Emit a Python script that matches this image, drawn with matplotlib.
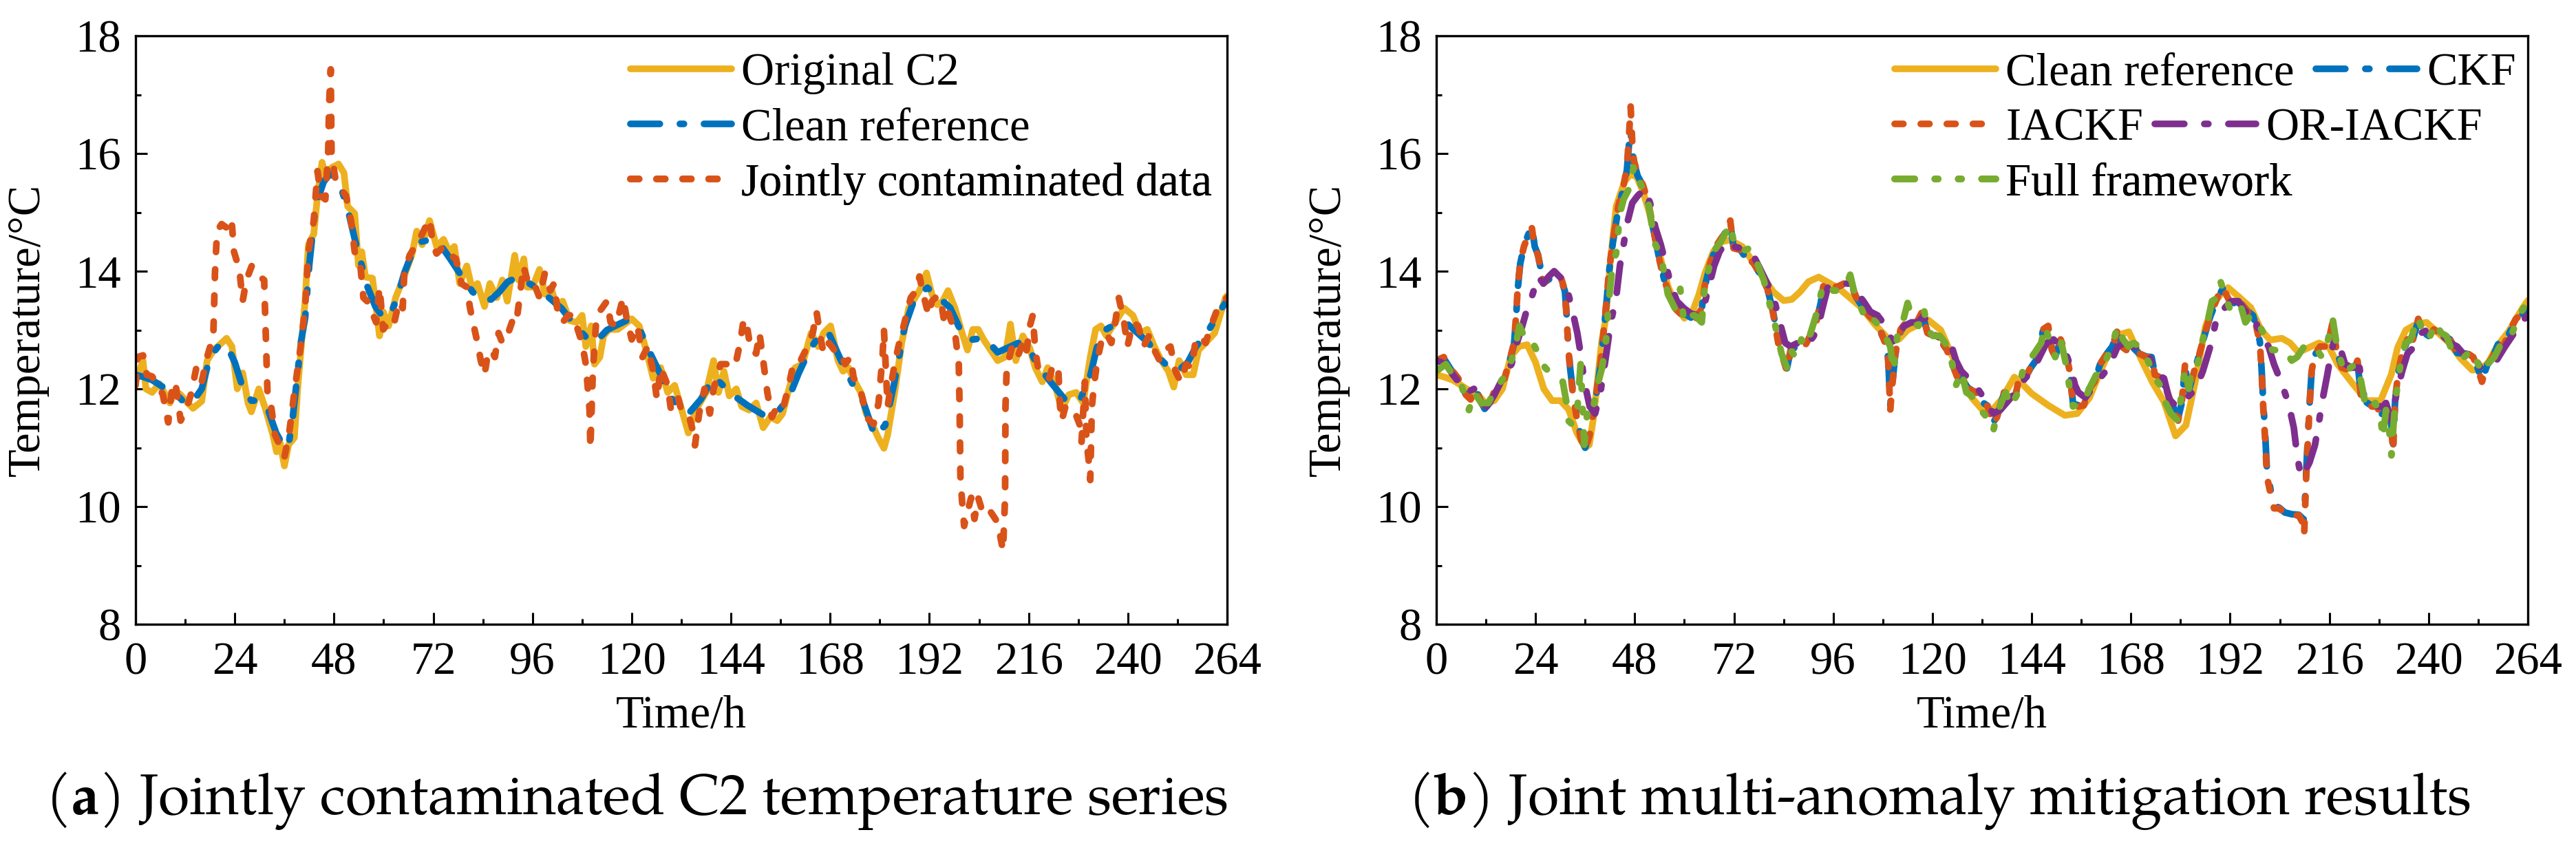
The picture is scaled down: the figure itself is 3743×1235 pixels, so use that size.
import matplotlib
matplotlib.use('Agg')
import matplotlib.pyplot as plt
from matplotlib.ticker import MultipleLocator
from matplotlib import font_manager

plt.rcParams['font.family'] = ['Liberation Serif', 'DejaVu Serif']
plt.rcParams['mathtext.fontset'] = 'custom'
_avail = {f.name for f in font_manager.fontManager.ttflist}
CAP_FONT = next((f for f in ['TeX Gyre Pagella', 'P052', 'URW Palladio L', 'Palatino Linotype',
                             'Gelasio', 'DejaVu Serif'] if f in _avail), 'DejaVu Serif')
plt.rcParams['mathtext.rm'] = CAP_FONT
plt.rcParams['mathtext.bf'] = CAP_FONT + ':bold'

# ---------------- data ----------------
x_ticks = [0, 24, 48, 72, 96, 120, 144, 168, 192, 216, 240, 264]
y_ticks = [8, 10, 12, 14, 16, 18]

clean_t = [0, 2, 4, 6, 8, 10, 12, 14, 16, 18, 20, 22, 24, 26, 28, 30, 32, 34, 36, 37, 38, 40, 41, 42,
           43.5, 45.5, 47, 48.5, 50, 51.5, 53, 54.5, 56, 58, 60, 62, 63.5, 65, 67, 69, 71, 74, 76, 79,
           81.5, 84, 86, 88, 90, 92.5, 94.5, 97.5, 100, 103, 106, 110, 112, 114, 116, 119, 122, 124.5,
           127, 129.5, 132, 134, 136.7, 139.8, 141.5, 144, 148, 152, 155, 158, 160.4, 163, 165.6, 167.5,
           170.5, 173.3, 176, 178.8, 181.3, 183.5, 186, 188, 190, 191.5, 194, 197, 199.5, 201.7, 204.5,
           206.5, 208.5, 211, 213.5, 216, 218, 221.5, 225, 228.4, 231, 232.5, 234.5, 237, 239.5, 242.5,
           245, 247.7, 250.5, 252.5, 254.5, 256.5, 259.3, 262.7, 264]
clean_v = [12.24, 12.2, 12.15, 12.06, 11.97, 11.9, 11.75, 11.8, 12.0, 12.55, 12.72, 12.75, 12.45, 12.0,
           11.8, 11.8, 11.65, 11.25, 11.0, 11.05, 11.5, 12.8, 13.2, 14.1, 15.1, 15.52, 15.65, 15.6, 15.35,
           15.0, 14.55, 14.15, 13.75, 13.4, 13.2, 13.32, 13.6, 13.97, 14.33, 14.5, 14.53, 14.42, 14.22,
           13.9, 13.65, 13.5, 13.52, 13.65, 13.82, 13.9, 13.82, 13.7, 13.55, 13.37, 13.1, 12.8, 12.85,
           13.0, 13.07, 13.17, 13.0, 12.6, 12.24, 11.85, 11.65, 11.6, 11.82, 12.2, 12.1, 11.92, 11.72,
           11.55, 11.58, 11.85, 12.27, 12.66, 12.93, 12.97, 12.5, 12.1, 11.78, 11.2, 11.38, 12.1, 13.05,
           13.45, 13.63, 13.72, 13.57, 13.38, 13.0, 12.83, 12.86, 12.78, 12.62, 12.7, 12.78, 12.7, 12.42,
           12.1, 11.8, 11.8, 12.25, 12.7, 13.0, 13.1, 13.13, 12.94, 12.78, 12.52, 12.32, 12.33, 12.45,
           12.72, 12.97, 13.37, 13.5]

orig_t = [0, 1.8, 2.5, 4, 5.7, 7.4, 8.3, 9.6, 10.9, 12.6, 13.9, 16, 17.3, 18.9, 20.8, 22, 23.3, 24.6,
          25.9, 27.2, 28, 29.8, 31.5, 33.2, 34.1, 34.9, 36, 37, 38.4, 39.2, 41, 41.8, 43.1, 44, 45.1,
          46.1, 47.4, 49.1, 50.4, 51.3, 53, 53.9, 54.7, 55.6, 57.3, 59, 59.9, 61.2, 62.9, 64.6, 66.8,
          68, 69.3, 71.1, 72.8, 74.5, 75.8, 77.1, 78.4, 80.1, 81.4, 82.7, 84.4, 85.7, 87.4, 88.7, 89.9,
          91.7, 92.6, 93.9, 94.7, 96, 97.7, 99, 100.7, 102, 103.3, 105, 106.7, 108, 108.9, 110.2, 111,
          112.3, 113.2, 114.5, 116.6, 120, 121.8, 123.5, 125.2, 127, 128.7, 130.4, 132.1, 133.7, 135.5,
          138, 139.8, 141, 142.3, 143.6, 145.3, 146.6, 148.4, 150.1, 151.8, 153.5, 155.2, 156.5, 157.8,
          159.5, 161.3, 163.4, 165.1, 166.4, 168.1, 169.9, 171.1, 172.4, 174.2, 175.4, 176.7, 178.5,
          179.7, 181, 181.9, 183.6, 185.3, 187, 189.6, 191.3, 192.6, 193.9, 195.2, 196.5, 198.2, 199.9,
          201.2, 202.5, 203.8, 205.1, 206.8, 208.5, 210.3, 211.6, 212.9, 214.6, 216.3, 217.6, 219.3,
          220.6, 222.3, 224, 225.7, 227.5, 229.2, 230.9, 232.2, 233.5, 234.8, 236.9, 239.1, 241.2, 243,
          244.7, 246.4, 248.1, 249.8, 251.1, 252.4, 254.1, 255.8, 257.1, 258.8, 261, 263.6, 264]
orig_v = [12.12, 12.48, 12.0, 11.94, 12.09, 11.88, 11.76, 11.97, 11.9, 11.76, 11.67, 11.79, 12.48, 12.66,
          12.78, 12.86, 12.72, 12.0, 12.27, 11.76, 11.61, 12.0, 11.64, 11.22, 10.93, 11.1, 10.69, 11.05,
          11.17, 12.0, 13.49, 14.45, 14.63, 15.28, 15.85, 15.58, 15.76, 15.82, 15.67, 15.1, 14.98, 14.1,
          14.33, 13.9, 13.88, 12.9, 13.31, 13.07, 13.55, 13.85, 14.27, 14.68, 14.45, 14.86, 14.42, 14.54,
          14.33, 14.42, 13.79, 14.09, 13.7, 13.79, 13.4, 13.79, 13.55, 13.85, 13.49, 14.27, 13.85, 14.21,
          13.73, 13.73, 14.03, 13.61, 13.67, 13.37, 13.49, 13.16, 13.13, 13.25, 12.72, 13.07, 12.42,
          12.54, 12.9, 13.01, 13.01, 13.19, 13.07, 12.66, 12.18, 12.36, 11.94, 12.06, 11.64, 11.25,
          11.64, 11.94, 12.48, 11.94, 12.3, 11.88, 12.0, 11.7, 11.64, 11.76, 11.34, 11.52, 11.46, 11.58,
          11.94, 12.36, 12.42, 12.95, 12.72, 12.95, 13.07, 12.48, 12.3, 12.36, 12.09, 11.94, 11.58,
          11.34, 11.16, 10.99, 11.22, 11.94, 12.78, 13.37, 13.67, 13.97, 13.61, 13.43, 13.49, 13.67,
          13.37, 12.95, 12.66, 13.01, 13.01, 12.84, 12.66, 12.48, 12.54, 13.1, 12.48, 12.9, 12.69, 12.36,
          12.12, 12.36, 12.09, 11.64, 11.9, 11.94, 11.76, 12.54, 13.01, 13.07, 12.9, 13.13, 13.37, 13.25,
          12.95, 13.01, 12.72, 12.48, 12.3, 12.03, 12.48, 12.24, 12.24, 12.66, 12.78, 12.95, 13.55, 13.58]

cont_t = [0, 0.5, 1.8, 2.7, 4, 5.7, 6.6, 7.9, 8.7, 9.6, 10.9, 12.2, 13.4, 14.7, 16, 17.3, 18.8, 19.2,
          19.7, 20.8, 22, 23.2, 23.8, 25.1, 25.9, 26.8, 28.1, 29.4, 31.1, 31.5, 31.9, 32.8, 33.7, 34.9,
          36, 37.1, 38.4, 39.7, 41, 41.8, 43.1, 44, 44.8, 45.9, 46.6, 46.8, 47.2, 47.4, 48.3, 49.6, 50.9,
          52.1, 53, 54.3, 55.1, 56, 58.2, 59, 59.9, 61.2, 62.4, 63.7, 64.6, 65, 66.3, 67.6, 69.3, 71.1,
          71.9, 72.8, 74.5, 76.2, 77.5, 78.8, 80.1, 80.9, 81.8, 82.7, 83.5, 84.4, 85.2, 86.1, 86.9, 87.8,
          88.7, 89.9, 91.3, 92.1, 93, 93.8, 95.1, 96.4, 97.7, 99, 100.3, 101.2, 102, 103.3, 104.6, 105.9,
          106.8, 108, 108.9, 109.8, 110, 110.6, 111.5, 112.8, 114, 114.9, 116.2, 117.9, 118.8, 120,
          121.4, 122.6, 123.9, 125.2, 126.1, 127, 128.7, 129.5, 131.2, 132, 133.7, 134.6, 135.3, 136.3,
          137.6, 138.9, 139.8, 141.5, 143.2, 144.1, 145.3, 146.2, 147.1, 148, 148.8, 150.1, 150.9,
          151.8, 152.8, 153.9, 155.2, 156.5, 157.8, 159.1, 160.4, 162.1, 163.8, 164.7, 165.6, 166.4,
          167.7, 169, 170.3, 171.6, 172.9, 173.7, 175, 175.9, 176.7, 178.5, 179.7, 180.2, 180.6, 181,
          181.9, 182.7, 183.6, 184.5, 186.2, 187.5, 188.8, 189.6, 190.5, 191.8, 192.6, 193.9, 194.8,
          195.6, 196.5, 197.4, 198.2, 199.1, 199.3, 199.5, 199.9, 200.4, 201.2, 202.1, 202.9, 203.8,
          205.1, 206.8, 208.5, 209.8, 210.3, 210.4, 210.7, 212, 213.3, 214.6, 215.4, 216.3, 217, 217.6,
          218.4, 219.7, 221, 221.9, 223.2, 223.6, 224, 224.9, 226.2, 227, 228.3, 228.8, 229.6, 230,
          230.5, 230.9, 231.3, 231.8, 232.6, 233.5, 234.8, 236, 236.9, 237.8, 239.1, 239.9, 241.2,
          242.5, 243.8, 245.1, 246.4, 247.7, 249, 250.3, 251.5, 252.8, 254.1, 255.4, 256.3, 257.6,
          258.8, 260.1, 261.4, 263.1, 264]
cont_v = [12.06, 12.54, 12.57, 12.24, 12.21, 12.03, 11.9, 11.43, 11.94, 12.12, 11.46, 11.64, 11.91,
          12.36, 12.12, 12.54, 12.9, 13.97, 14.68, 14.8, 14.74, 14.89, 14.33, 14.03, 13.49, 13.85, 14.09,
          13.94, 13.85, 12.9, 11.94, 11.7, 11.22, 11.04, 10.84, 11.22, 11.94, 12.6, 13.37, 14.33, 14.86,
          15.7, 15.28, 15.22, 16.06, 16.83, 17.43, 16.0, 15.58, 15.4, 15.28, 14.86, 14.33, 14.15, 13.55,
          13.49, 13.13, 13.73, 13.01, 13.13, 13.07, 13.49, 13.37, 13.97, 14.27, 14.42, 14.63, 14.89,
          14.45, 14.3, 14.42, 14.27, 14.21, 13.79, 13.73, 13.37, 13.07, 12.78, 12.48, 12.24, 12.6, 12.66,
          12.54, 12.95, 12.78, 12.9, 13.19, 13.13, 13.61, 14.09, 13.76, 13.79, 13.55, 13.97, 13.67,
          13.79, 13.37, 13.13, 13.25, 13.25, 13.04, 12.78, 12.42, 11.64, 10.99, 12.3, 13.25, 13.37,
          13.49, 13.13, 13.07, 13.55, 13.19, 12.84, 13.07, 12.54, 12.72, 12.3, 11.82, 12.36, 12.06,
          11.64, 11.85, 11.64, 11.58, 11.34, 11.04, 11.58, 12.0, 11.58, 12.0, 12.42, 12.42, 12.54, 12.48,
          12.78, 13.19, 13.01, 12.66, 12.6, 12.95, 12.48, 11.94, 11.52, 11.7, 11.64, 12.0, 12.42, 12.42,
          12.66, 12.95, 13.31, 12.9, 12.6, 12.78, 12.66, 12.66, 12.42, 12.54, 12.18, 12.06, 11.82,
          11.52, 11.4, 11.76, 12.18, 12.48, 13.01, 11.7, 12.06, 12.42, 12.72, 13.19, 13.55, 13.67, 13.91,
          13.61, 13.25, 13.49, 13.58, 13.49, 13.13, 13.31, 13.13, 12.95, 12.42, 11.7, 10.51, 10.09, 9.67,
          9.91, 10.15, 9.79, 10.15, 9.85, 9.91, 9.73, 9.25, 10.15, 11.7, 12.36, 12.72, 12.54, 12.78,
          12.6, 13.07, 13.25, 12.66, 12.3, 12.24, 12.18, 12.42, 12.3, 11.7, 11.46, 11.7, 11.64, 11.64,
          11.4, 11.1, 12.12, 11.1, 10.8, 10.45, 11.7, 12.06, 12.48, 12.78, 12.95, 12.78, 13.1, 13.55,
          13.13, 12.72, 13.13, 13.07, 12.72, 12.9, 12.66, 12.48, 12.66, 12.72, 12.3, 12.12, 12.42,
          12.36, 12.78, 12.9, 12.78, 13.07, 13.31, 13.49, 13.55]

iackf_t = [0, 1.8, 3.6, 5.3, 7, 8.3, 9.6, 10.9, 11.7, 13, 14.7, 16.5, 17.7, 18.8, 19.3, 19.7, 20.3,
           21.2, 22, 23.1, 23.8, 24.6, 25.9, 26.8, 28.5, 30.2, 31.1, 31.5, 31.9, 32.4, 33.2, 34.1, 34.9,
           36, 37.1, 38.4, 39.7, 41, 41.8, 42.7, 44, 45.3, 46.1, 46.6, 47, 47.4, 47.8, 48.7, 50, 51.3,
           52.6, 53.9, 55.1, 56.4, 57.7, 59, 60.7, 62.5, 64.2, 65, 66.3, 67.6, 69.3, 71.1, 71.9, 73.6,
           74.9, 76.6, 78.4, 80.1, 81.4, 82.7, 84, 84.8, 85.7, 87.4, 89.1, 90.4, 91.7, 93, 93.8, 95.1,
           96.9, 98.6, 99.9, 101.6, 103.3, 104.6, 106.3, 107.6, 108.9, 109.3, 109.8, 110.2, 111, 112.3,
           113.6, 114.9, 116.2, 117.5, 118.8, 120.1, 121.8, 123.5, 124.8, 126.1, 127.4, 128.7, 130.4,
           132.1, 133.4, 134.7, 135.6, 137.3, 138.6, 139.9, 141.1, 142.4, 143.7, 145, 145.9, 146.7, 148,
           148.9, 149.7, 151, 152.3, 153.2, 154, 155.3, 156.6, 157.9, 159.2, 160.5, 162.2, 163.5, 164.8,
           165.7, 166.9, 168.2, 170, 171.7, 173, 173.8, 175.5, 176.8, 178.1, 179.4, 180.3, 181.1, 182,
           183.3, 184.6, 185.9, 187.2, 188.9, 190.2, 191, 192.3, 193.6, 194.9, 196.2, 197.5, 198.3,
           199.2, 199.6, 200, 200.5, 200.9, 201.8, 202.6, 203.9, 205.2, 206.9, 208.6, 209.5, 209.9,
           210.4, 210.8, 211.2, 211.7, 212.5, 213.8, 215.5, 216.8, 217.7, 219, 220.3, 221.5, 222.8,
           223.7, 225, 226.3, 227.6, 228.4, 229.3, 230.1, 231, 231.4, 231.9, 232.7, 233.6, 234.9, 236.2,
           237.5, 238.7, 240, 241.3, 242.6, 243.9, 245.2, 246.9, 248.2, 249.5, 250.8, 252.1, 252.9,
           254.2, 255.5, 256.8, 258.1, 259.4, 261.1, 263.2, 264]
iackf_v = [12.48, 12.54, 12.33, 12.18, 11.91, 11.82, 12.0, 11.76, 11.64, 11.76, 12.09, 12.18, 12.48,
           12.78, 13.25, 13.73, 14.15, 14.42, 14.57, 14.74, 14.39, 14.27, 13.79, 13.85, 13.94, 13.88,
           13.67, 13.25, 12.72, 12.3, 11.82, 11.46, 11.17, 10.96, 11.22, 11.76, 12.42, 13.37, 14.03,
           14.51, 15.1, 15.46, 15.76, 16.3, 16.8, 16.18, 15.88, 15.64, 15.46, 15.16, 14.68, 14.21, 13.85,
           13.61, 13.37, 13.28, 13.25, 13.16, 13.37, 13.79, 14.15, 14.42, 14.6, 14.86, 14.39, 14.36,
           14.21, 14.15, 13.94, 13.7, 13.31, 12.78, 12.48, 12.3, 12.66, 12.75, 12.72, 12.9, 13.07, 13.49,
           13.82, 13.79, 13.73, 13.79, 13.85, 13.55, 13.37, 13.25, 13.13, 12.95, 12.72, 12.48, 11.64,
           12.0, 12.6, 13.01, 13.13, 13.07, 13.13, 13.31, 12.95, 12.9, 12.84, 12.66, 12.42, 12.18, 12.12,
           12.0, 11.95, 11.76, 11.7, 11.4, 11.52, 11.94, 11.76, 11.82, 12.24, 12.18, 12.36, 12.48, 12.72,
           13.01, 13.07, 12.66, 12.54, 12.84, 12.6, 12.3, 11.7, 11.7, 11.72, 12.0, 12.12, 12.42, 12.6,
           12.72, 13.01, 12.72, 12.66, 12.72, 12.6, 12.54, 12.54, 12.24, 12.18, 11.94, 11.7, 11.46,
           11.76, 12.42, 11.94, 12.3, 12.6, 12.95, 13.25, 13.55, 13.73, 13.61, 13.43, 13.49, 13.43,
           13.31, 13.25, 13.07, 12.78, 12.3, 11.7, 11.1, 10.51, 10.21, 9.97, 9.97, 9.88, 9.85, 9.85,
           9.73, 9.52, 10.51, 11.1, 11.7, 12.3, 12.6, 12.72, 12.72, 13.13, 12.66, 12.36, 12.33, 12.3,
           12.48, 11.82, 11.76, 11.7, 11.7, 11.52, 11.64, 11.64, 11.34, 10.93, 11.82, 12.3, 12.6, 12.84,
           12.84, 13.19, 12.95, 12.9, 13.01, 12.95, 12.9, 12.84, 12.6, 12.6, 12.6, 12.54, 12.3, 12.12,
           12.42, 12.54, 12.78, 12.72, 12.95, 13.19, 13.31, 13.35]

ckf_t = iackf_t
ckf_v = [12.46, 12.52, 12.32, 12.17, 11.92, 11.83, 11.99, 11.77, 11.66, 11.77, 12.08, 12.18, 12.46,
         12.76, 13.22, 13.7, 14.13, 14.42, 14.58, 14.77, 14.42, 14.28, 13.8, 13.84, 13.92, 13.86,
         13.66, 13.28, 12.76, 12.33, 11.86, 11.5, 11.2, 11.0, 11.24, 11.75, 12.4, 13.33, 14.0,
         14.48, 15.05, 15.42, 15.72, 16.15, 16.42, 16.05, 15.85, 15.62, 15.45, 15.15, 14.68, 14.22, 13.86,
         13.62, 13.38, 13.29, 13.25, 13.17, 13.36, 13.76, 14.12, 14.4, 14.58, 14.82, 14.4, 14.36,
         14.22, 14.15, 13.94, 13.7, 13.33, 12.82, 12.52, 12.35, 12.65, 12.74, 12.72, 12.89, 13.06, 13.47,
         13.8, 13.78, 13.73, 13.78, 13.83, 13.55, 13.37, 13.25, 13.13, 12.95, 12.73, 12.5, 11.72,
         12.02, 12.58, 12.98, 13.11, 13.07, 13.12, 13.28, 12.96, 12.9, 12.84, 12.66, 12.43, 12.2, 12.13,
         12.01, 11.95, 11.77, 11.71, 11.43, 11.53, 11.92, 11.77, 11.83, 12.22, 12.18, 12.35, 12.48, 12.7,
         12.98, 13.05, 12.67, 12.55, 12.82, 12.6, 12.32, 11.75, 11.72, 11.73, 12.0, 12.12, 12.41, 12.6,
         12.72, 12.98, 12.73, 12.67, 12.72, 12.6, 12.55, 12.54, 12.25, 12.18, 11.95, 11.72, 11.5,
         11.76, 12.38, 11.96, 12.3, 12.6, 12.93, 13.23, 13.53, 13.7, 13.6, 13.44, 13.48, 13.43,
         13.32, 13.25, 13.08, 12.8, 12.35, 11.78, 11.2, 10.62, 10.28, 10.02, 9.98, 9.9, 9.87, 9.86,
         9.8, 9.78, 10.6, 11.18, 11.72, 12.28, 12.58, 12.71, 12.72, 13.1, 12.67, 12.37, 12.33, 12.3,
         12.46, 11.86, 11.77, 11.71, 11.7, 11.54, 11.64, 11.64, 11.38, 11.0, 11.8, 12.28, 12.58, 12.83,
         12.84, 13.16, 12.96, 12.9, 13.0, 12.95, 12.9, 12.84, 12.61, 12.6, 12.6, 12.54, 12.31, 12.14,
         12.41, 12.53, 12.76, 12.72, 12.93, 13.17, 13.3, 13.34]

oriackf_t = [0, 2.3, 4, 5.7, 7.4, 9.1, 10.9, 12.2, 13.9, 15.2, 16.9, 18.2, 19.5, 20.8, 22, 23.3, 24.6,
             25.9, 27.2, 28.5, 30.2, 31.5, 32.8, 34.1, 34.9, 35.8, 37.1, 38.4, 39.7, 41, 42.2, 43.5,
             44.4, 45.3, 46.1, 47.4, 48.7, 50.4, 51.7, 53, 54.3, 55.6, 56.9, 58.2, 59.9, 61.6, 63.3,
             64.6, 65.9, 67.2, 68.5, 70.2, 71.9, 73.6, 75.4, 77.1, 78.8, 80.5, 81.8, 83.1, 84.4, 85.7,
             87.4, 89.5, 91.3, 92.6, 93.4, 94.7, 96.4, 98.6, 100.7, 102, 103.3, 105, 106.7, 108, 109.3,
             110.6, 111.9, 113.2, 114.9, 116.6, 117.9, 119.2, 120.9, 122.6, 124.4, 125.7, 127, 128.7,
             130.4, 132.1, 134.7, 136.4, 138.6, 140.7, 142.4, 144.2, 146.3, 147.6, 149.3, 151, 152.3,
             153.2, 154.5, 155.3, 157, 158.8, 160.5, 162.6, 164.8, 166.5, 168.2, 170.4, 172.5, 174.3,
             176, 177.3, 179, 180.3, 182, 183.7, 185.4, 187.2, 188.9, 190.6, 192.3, 194, 195.7, 197.5,
             198.8, 200.1, 201.3, 202.6, 204.3, 206.1, 207.4, 208.2, 209.1, 209.9, 211.2, 212.5, 213.4,
             214.2, 215.5, 216.4, 217.2, 218.5, 219.8, 221.5, 223.3, 224.1, 225.4, 227.1, 228.9, 229.7,
             231, 232.3, 233.6, 234.9, 236.6, 238.2, 240, 241.8, 243.5, 245.2, 246.9, 249.1, 250.8,
             252.5, 254.2, 256.4, 258.5, 260.7, 263.2, 264]
oriackf_v = [12.48, 12.42, 12.24, 12.09, 11.94, 12.0, 11.79, 11.7, 11.88, 12.06, 12.3, 12.42, 12.78,
             13.07, 13.37, 13.61, 13.91, 13.79, 13.91, 14.0, 13.88, 13.73, 13.37, 12.95, 12.6, 12.12,
             11.7, 11.58, 11.94, 12.54, 13.13, 13.55, 14.09, 14.45, 14.8, 15.16, 15.28, 15.4, 15.16,
             14.74, 14.45, 14.09, 13.73, 13.49, 13.37, 13.28, 13.25, 13.37, 13.73, 14.09, 14.33, 14.51,
             14.42, 14.39, 14.33, 14.21, 13.97, 13.73, 13.49, 13.13, 12.78, 12.72, 12.78, 12.72, 12.9,
             13.13, 13.37, 13.73, 13.73, 13.79, 13.79, 13.61, 13.49, 13.31, 13.25, 13.13, 12.95, 12.78,
             12.95, 13.07, 13.13, 13.13, 13.25, 13.01, 12.9, 12.84, 12.78, 12.48, 12.3, 12.18, 12.06,
             11.88, 11.58, 11.64, 11.82, 12.0, 12.18, 12.3, 12.6, 12.78, 12.84, 12.72, 12.6, 12.42, 12.06,
             11.94, 11.85, 12.03, 12.18, 12.36, 12.72, 12.78, 12.72, 12.72, 12.54, 12.24, 12.18, 11.82,
             11.7, 11.76, 11.88, 12.0, 12.3, 12.72, 13.25, 13.37, 13.49, 13.49, 13.31, 13.31, 13.01,
             12.84, 12.72, 12.42, 12.12, 11.76, 11.34, 10.87, 10.51, 10.57, 10.75, 11.04, 11.4, 11.76,
             12.24, 12.6, 12.84, 12.72, 12.42, 12.36, 12.36, 11.94, 11.76, 11.7, 11.7, 11.76, 11.46,
             11.94, 12.3, 12.6, 12.72, 12.95, 13.01, 12.95, 12.9, 12.78, 12.72, 12.54, 12.6, 12.36,
             12.42, 12.48, 12.72, 12.95, 13.19, 13.25]

full_t = [0, 2.3, 4, 6.1, 7.9, 9.1, 10.9, 12.6, 13.9, 15.6, 17.3, 19, 20.1, 21.2, 22.5, 23.8, 25.1,
          26.3, 28.1, 29.8, 30.6, 31.5, 31.9, 32.8, 34.1, 34.9, 35.8, 36.7, 38, 39.2, 40.1, 41, 41.8,
          42.7, 43.5, 44.4, 45.3, 46.6, 47.8, 48.7, 50, 51.3, 52.1, 53, 54.3, 55.1, 56, 57.7, 59,
          59.9, 61.2, 62.5, 64.2, 65, 66.3, 67.6, 68.9, 71.1, 71.9, 73.6, 75.8, 77.5, 79.2, 80.9,
          82.2, 83.5, 84.8, 85.7, 86.9, 88.3, 89.5, 90.8, 92.1, 93.4, 94.7, 96, 97.7, 99, 100.1,
          101.2, 102.4, 104.2, 105.5, 107.2, 108.5, 109.8, 110.6, 111.5, 112.8, 114, 115.3, 116.6,
          117.9, 118.8, 120.1, 121.8, 123.1, 124.8, 125.7, 127, 128.2, 129.5, 131.2, 132.5, 134.7,
          135.6, 137.7, 139, 140.7, 142, 143.3, 144.6, 146.3, 147.2, 148.5, 149.7, 151, 152.3, 153.2,
          154, 155.8, 156.6, 157.9, 159.6, 161.4, 163.1, 164.8, 166.1, 167.4, 168.7, 170, 171.2,
          172.5, 173.8, 175.1, 176.4, 177.7, 179.4, 180.3, 181.1, 182, 182.9, 184.1, 185.4, 186.7,
          187.6, 188.9, 189.7, 190.6, 191.9, 193.2, 194.5, 195.7, 197, 198.3, 199.6, 200.9, 202.2,
          203.5, 205.2, 206.9, 208.2, 209.9, 211.7, 213, 214.2, 215.5, 216.8, 217.7, 218.5, 219.8,
          221.1, 222.4, 223.7, 224.6, 225.8, 227.1, 228.4, 228.9, 229.7, 230.6, 231, 231.9, 233.2,
          234.4, 235.7, 237.4, 238.7, 240, 241.8, 243, 244.3, 245.6, 246.9, 248.6, 250.4, 251.6,
          252.9, 254.2, 255.9, 257.2, 258.5, 260.2, 262.4, 263.2, 264]
full_v = [12.3, 12.42, 12.24, 12.06, 11.64, 11.94, 11.76, 11.76, 11.94, 12.12, 12.3, 12.66, 13.07,
          12.9, 12.9, 12.72, 12.54, 12.36, 12.24, 12.15, 12.12, 11.76, 11.46, 11.4, 11.64, 12.42,
          11.05, 11.76, 11.7, 12.12, 12.36, 12.78, 13.55, 14.15, 14.3, 14.98, 15.22, 15.4, 15.79,
          15.58, 15.4, 15.16, 14.8, 14.45, 14.27, 13.97, 13.61, 13.37, 13.7, 13.13, 13.25, 13.25,
          13.13, 13.79, 14.15, 14.39, 14.51, 14.8, 14.51, 14.33, 14.39, 14.15, 13.85, 13.37, 13.01,
          12.6, 12.36, 12.66, 12.54, 12.84, 12.72, 13.01, 13.31, 13.73, 13.79, 13.67, 13.67, 13.73,
          13.94, 13.61, 13.43, 13.13, 13.19, 13.07, 12.9, 12.72, 12.3, 12.9, 13.13, 13.46, 13.13,
          13.07, 13.37, 13.01, 12.9, 12.9, 12.78, 12.42, 12.06, 12.3, 11.94, 11.88, 11.64, 11.58,
          11.28, 11.58, 11.94, 11.7, 11.94, 12.36, 12.48, 12.6, 12.78, 13.07, 12.78, 12.54, 12.84,
          12.42, 12.0, 11.7, 11.76, 11.76, 12.0, 12.24, 12.42, 12.66, 13.07, 12.84, 12.72, 12.78,
          12.72, 12.6, 12.42, 12.18, 12.06, 11.76, 11.58, 11.46, 11.94, 12.36, 12.0, 12.42, 12.42,
          12.84, 13.19, 13.49, 13.55, 13.82, 13.61, 13.37, 13.49, 13.43, 13.13, 13.25, 13.13, 13.01,
          12.84, 12.66, 12.66, 12.66, 12.48, 12.54, 12.72, 12.75, 12.66, 12.54, 12.78, 13.19, 12.78,
          12.54, 12.24, 12.36, 12.42, 12.12, 11.76, 11.64, 11.76, 11.52, 11.16, 11.64, 11.22, 10.87,
          11.76, 12.42, 12.78, 12.84, 13.22, 12.95, 12.84, 13.13, 12.95, 12.9, 12.66, 12.54, 12.54,
          12.66, 12.48, 12.27, 12.42, 12.54, 12.72, 12.78, 12.95, 13.31, 13.4, 13.42]

labels_a = ['Original C2', 'Clean reference', 'Jointly contaminated data']
labels_b = ['Clean reference', 'CKF', 'IACKF', 'OR-IACKF', 'Full framework']
captions = [r'($\mathbf{a}$) Jointly contaminated C2 temperature series',
            r'($\mathbf{b}$) Joint multi-anomaly mitigation results']

# ---------------- styles ----------------
YELLOW, BLUE, ORANGE, PURPLE, GREEN = '#EDB120', '#0072BD', '#D95319', '#7E2F8E', '#77AC30'
LW = 7
DASHDOT = (0, (4.4, 3.0, 0.6, 3.0))
DASHED = (0, (1.3, 2.6))
DASHDOTDOT = (0, (3.0, 3.0, 0.5, 3.0, 0.5, 3.0))
FS = 48

W, H = 3743, 1235
fig = plt.figure(figsize=(W / 100, H / 100), dpi=100)
ax_w, ax_h = 1586 / W, 855 / H
ax_b = 1 - 907 / H
axA = fig.add_axes([197 / W, ax_b, ax_w, ax_h])
axB = fig.add_axes([2087 / W, ax_b, ax_w, ax_h])


def line(ax, t, v, color, ls):
    ln, = ax.plot(t, v, color=color, lw=LW, linestyle=ls, dash_capstyle='round',
                  solid_capstyle='round', solid_joinstyle='round', dash_joinstyle='round')
    return ln


def style(ax):
    ax.set_xlim(0, 264)
    ax.set_ylim(8, 18)
    ax.set_xticks(x_ticks)
    ax.set_yticks(y_ticks)
    ax.xaxis.set_minor_locator(MultipleLocator(12))
    ax.yaxis.set_minor_locator(MultipleLocator(1))
    ax.tick_params(which='both', direction='in', top=False, right=False, width=2.2)
    ax.tick_params(which='major', length=12, labelsize=FS)
    ax.tick_params(which='minor', length=6)
    ax.tick_params(axis='x', which='major', pad=18)
    ax.tick_params(axis='y', which='major', pad=15)
    for s in ax.spines.values():
        s.set_linewidth(2.4)
    ax.set_xlabel('Time/h', fontsize=FS, labelpad=12)
    ax.set_ylabel('Temperature/°C', fontsize=FS, labelpad=28)


def entry(ax, handle, label, x, y):
    leg = ax.legend(handles=[handle], labels=[label], loc='center left', bbox_to_anchor=(x, y),
                    frameon=False, borderpad=0, borderaxespad=0, handlelength=2.2,
                    handletextpad=0.22, fontsize=FS)
    ax.add_artist(leg)


# ---------------- panel (a) ----------------
la1 = line(axA, orig_t, orig_v, YELLOW, '-')
la2 = line(axA, clean_t, clean_v, BLUE, DASHDOT)
la3 = line(axA, cont_t, cont_v, ORANGE, DASHED)
style(axA)
rows = [0.9357, 0.8421, 0.7485]
for h, lab, y in zip([la1, la2, la3], labels_a, rows):
    entry(axA, h, lab, 0.4533, y)

# ---------------- panel (b) ----------------
lb1 = line(axB, clean_t, clean_v, YELLOW, '-')
lb2 = line(axB, ckf_t, ckf_v, BLUE, DASHDOT)
lb3 = line(axB, iackf_t, iackf_v, ORANGE, DASHED)
lb4 = line(axB, oriackf_t, oriackf_v, PURPLE, DASHDOT)
lb5 = line(axB, full_t, full_v, GREEN, DASHDOTDOT)
style(axB)
pos_b = [(0.42, rows[0]), (0.8058, rows[0]), (0.42, rows[1]), (0.6583, rows[1]), (0.42, rows[2])]
for h, lab, (x, y) in zip([lb1, lb2, lb3, lb4, lb5], labels_b, pos_b):
    entry(axB, h, lab, x, y)

# ---------------- captions ----------------
cap_size = 59.5 if CAP_FONT != 'DejaVu Serif' else 54
fig.text(0.247, 1 - 1163 / H, captions[0], ha='center', va='center', fontsize=cap_size, family=CAP_FONT)
fig.text(0.7528, 1 - 1163 / H, captions[1], ha='center', va='center', fontsize=cap_size, family=CAP_FONT)

fig.savefig('out.png', dpi=100, facecolor='white')
